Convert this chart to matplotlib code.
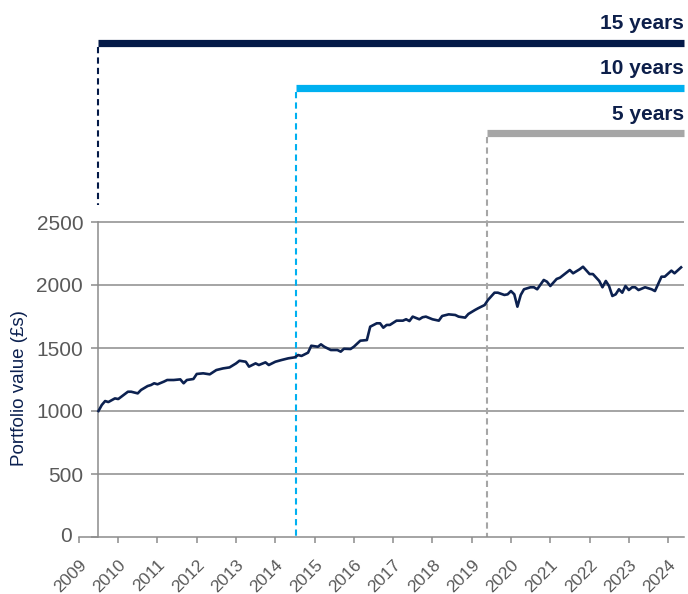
import pandas as pd
import matplotlib
matplotlib.use("Agg")
import matplotlib.pyplot as plt
import matplotlib.dates as mdates

plt.rcParams['font.family'] = ['Liberation Sans', 'DejaVu Sans']

# monthly portfolio value readings
dates = ['2009-07', '2009-08', '2009-09', '2009-10', '2009-12', '2010-01', '2010-04', '2010-05',
         '2010-07', '2010-08', '2010-10', '2010-11', '2010-12', '2011-01', '2011-03', '2011-04',
         '2011-06', '2011-08', '2011-09', '2011-10', '2011-12', '2012-01', '2012-03', '2012-05',
         '2012-07', '2012-09', '2012-11', '2013-01', '2013-02', '2013-04', '2013-05', '2013-07',
         '2013-08', '2013-10', '2013-11', '2014-01', '2014-03', '2014-05', '2014-07', '2014-08',
         '2014-09', '2014-11', '2014-12', '2015-02', '2015-03', '2015-04', '2015-06', '2015-08',
         '2015-09', '2015-10', '2015-12', '2016-01', '2016-03', '2016-05', '2016-06', '2016-08',
         '2016-09', '2016-10', '2016-11', '2016-12', '2017-02', '2017-04', '2017-05', '2017-06',
         '2017-07', '2017-09', '2017-10', '2017-11', '2018-01', '2018-03', '2018-04', '2018-06',
         '2018-08', '2018-09', '2018-11', '2018-12', '2019-02', '2019-03', '2019-05', '2019-06',
         '2019-08', '2019-09', '2019-11', '2019-12', '2020-01', '2020-02', '2020-03', '2020-04',
         '2020-05', '2020-07', '2020-08', '2020-09', '2020-11', '2020-12', '2021-01', '2021-03',
         '2021-04', '2021-07', '2021-08', '2021-10', '2021-11', '2022-01', '2022-02', '2022-04',
         '2022-05', '2022-06', '2022-07', '2022-08', '2022-09', '2022-10', '2022-11', '2022-12',
         '2023-01', '2023-02', '2023-03', '2023-04', '2023-06', '2023-08', '2023-09', '2023-11',
         '2023-12', '2024-02', '2024-03', '2024-05']
values = [1000, 1048, 1079, 1071, 1100, 1095, 1153, 1153,
          1140, 1167, 1198, 1206, 1220, 1212, 1233, 1246,
          1246, 1251, 1220, 1246, 1254, 1294, 1299, 1291,
          1325, 1338, 1346, 1378, 1399, 1391, 1352, 1378,
          1365, 1386, 1365, 1391, 1405, 1418, 1426, 1444,
          1437, 1463, 1518, 1510, 1529, 1510, 1484, 1484,
          1471, 1494, 1492, 1510, 1558, 1563, 1669, 1696,
          1696, 1661, 1683, 1683, 1717, 1717, 1728, 1714,
          1749, 1728, 1744, 1749, 1728, 1717, 1754, 1767,
          1762, 1749, 1741, 1770, 1802, 1815, 1841, 1881,
          1939, 1939, 1921, 1926, 1952, 1926, 1828, 1921,
          1966, 1982, 1982, 1966, 2040, 2026, 1992, 2048,
          2058, 2119, 2093, 2125, 2145, 2087, 2087, 2032,
          1982, 2032, 1992, 1913, 1926, 1966, 1939, 1992,
          1960, 1982, 1982, 1960, 1982, 1966, 1952, 2066,
          2066, 2114, 2093, 2140]

periods = ['15 years', '10 years', '5 years']
period_starts = ['2009-07-01', '2014-07-14', '2019-05-20']
period_colors = ['#041a48', '#00b0f0', '#a6a6a6']

yticks = [0, 500, 1000, 1500, 2000, 2500]

navy = '#0c2150'
grey = '#8c8c8c'
label_grey = '#595959'

x = pd.to_datetime(dates)
x_end = pd.Timestamp('2024-05-31')
x_left = pd.Timestamp('2009-01-01')

fig = plt.figure(figsize=(6.88, 5.94), dpi=100)
ax = fig.add_axes([79 / 688, 57 / 594, 605.3 / 688, 537 / 594])

px = 500 / 63  # data units per pixel
ymax = 537 * px
ax.set_ylim(0, ymax)
ax.set_xlim(x_left, x_end)

# grid lines start at the y axis
ax.hlines(yticks[1:], x[0], x_end, color=grey, lw=1.1, zorder=1)

ax.plot(x, values, color=navy, lw=1.9, zorder=3, solid_joinstyle='round')

for sp in ['top', 'right']:
    ax.spines[sp].set_visible(False)
ax.spines['left'].set_position(('data', mdates.date2num(x[0])))
ax.spines['left'].set_bounds(0, 2500)
ax.spines['left'].set_color(grey)
ax.spines['left'].set_linewidth(1.1)
ax.spines['bottom'].set_color(grey)
ax.spines['bottom'].set_linewidth(1.1)
ax.spines['left'].set_zorder(2)

ax.set_yticks(yticks)
ax.set_yticklabels([''] + [str(v) for v in yticks[1:]])
ax.tick_params(axis='y', length=5, width=1.1, color=grey, labelsize=15,
               labelcolor=label_grey, pad=6)
# the zero label sits left of where the x axis begins
ax.annotate(str(yticks[0]), xy=(x_left, yticks[0]), xytext=(-5, 0), textcoords='offset points',
            ha='right', va='center', fontsize=15, color=label_grey, annotation_clip=False)

ax.xaxis.set_major_locator(mdates.YearLocator())
ax.xaxis.set_major_formatter(mdates.DateFormatter('%Y'))
ax.tick_params(axis='x', length=4, width=1.1, color=grey, labelsize=12.5,
               labelcolor=label_grey, pad=10.5)
for lbl in ax.get_xticklabels():
    lbl.set_rotation(45)
    lbl.set_ha('right')
    lbl.set_va('top')
    lbl.set_rotation_mode('anchor')

ax.set_ylabel('Portfolio value (£s)', fontsize=13.5, color=navy)
ax.yaxis.set_label_coords(-0.084, 0.2775)

# period bars across the top
bar_px = [43, 88, 133.5]
dash_bottom = [ymax - 205 * px, 0, 0]
for name, start, col, bp, db in zip(periods, period_starts, period_colors, bar_px, dash_bottom):
    by = ymax - bp * px
    s = pd.Timestamp(start)
    ax.plot([s, x_end], [by, by], color=col, lw=5.2, solid_capstyle='butt', clip_on=False, zorder=4)
    ax.plot([s, s], [by - 4 * px, db], color=col, lw=1.5, ls=(0, (3, 2)), zorder=2)
    ax.annotate(name, xy=(x_end, by), xytext=(0, 10), textcoords='offset points',
                ha='right', va='baseline', fontsize=15, fontweight='bold', color='#0d1f4a')

fig.savefig('out.png', dpi=100)
